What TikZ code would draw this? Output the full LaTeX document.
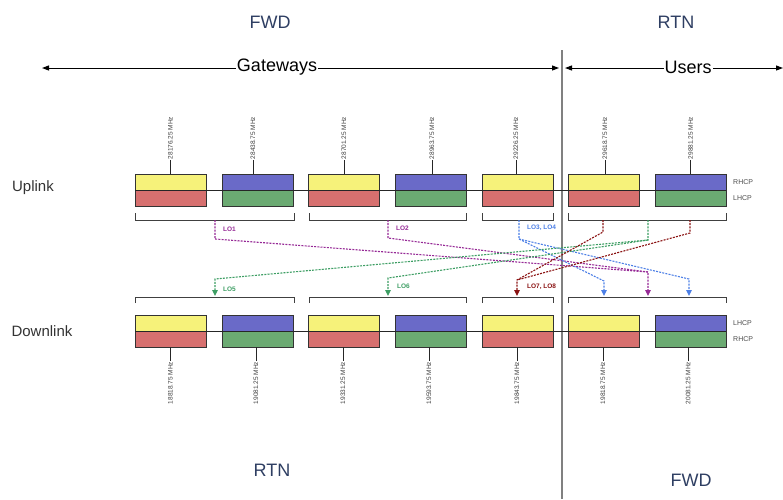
\documentclass[tikz,border=0pt]{standalone}
\usepackage{fontspec}
\setmainfont{Liberation Sans}
\usetikzlibrary{arrows.meta}
\definecolor{byel}{HTML}{F6F27A}
\definecolor{bred}{HTML}{D7706F}
\definecolor{bblu}{HTML}{6A6AC8}
\definecolor{bgrn}{HTML}{6BAA72}
\definecolor{titc}{HTML}{2E3E62}
\definecolor{lopur}{HTML}{962A96}
\definecolor{loblu}{HTML}{4C7FE6}
\definecolor{logrn}{HTML}{3E9E64}
\definecolor{lored}{HTML}{8A1212}
\begin{document}
\begin{tikzpicture}[x=1pt,y=-1pt,
  half/.style={draw=black!80,line width=0.7pt,minimum width=71pt,minimum height=16pt,inner sep=0pt,outer sep=0pt},
  freq/.style={font=\fontsize{6.5}{7}\selectfont,text=black!75,inner sep=0.5pt,rotate=90},
  pol/.style={font=\fontsize{7}{8}\selectfont,text=black!70,anchor=west,inner sep=0pt},
  tick/.style={draw=black!85,line width=0.8pt},
  brk/.style={draw=black!75,line width=0.8pt},
  title/.style={font=\fontsize{18}{20}\selectfont,text=titc},
  side/.style={font=\fontsize{15}{17}\selectfont,text=black!80},
  lo/.style={line width=1.1pt,dash pattern=on 2pt off 1.2pt},
  lotip/.style={-{Triangle[length=6pt,width=5.5pt]}},
  lolab/.style={font=\fontsize{6.5}{7}\bfseries\selectfont,anchor=west,inner sep=0pt}
]
\useasboundingbox (0,0) rectangle (783,499);

% titles
\node[title] (fwdtop) at (270,22) {FWD};
\node[title] (rtntop) at (676,22) {RTN};
\node[title] (rtnbot) at (272,470) {RTN};
\node[title] (fwdbot) at (691,480) {FWD};
\node[side] (upl) at (33,188) {Uplink};
\node[side] (dnl) at (42,331) {Downlink};

% divider
\coordinate (vtop) at (562,50);
\coordinate (vbot) at (562,499);
\draw[draw=black!50,line width=1.4pt] (vtop) -- (vbot);

% top arrows
\coordinate (gl) at (42,68);
\coordinate (gr) at (559,68);
\coordinate (ul) at (565,68);
\coordinate (ur) at (783,68);
\draw[line width=1pt,{Triangle[length=7pt,width=5pt]}-{Triangle[length=7pt,width=5pt]}] (gl) -- (gr);
\draw[line width=1pt,{Triangle[length=7pt,width=5pt]}-{Triangle[length=7pt,width=5pt]}] (ul) -- (ur);
\node[fill=white,inner sep=1pt,font=\fontsize{18}{20}\selectfont] (gw) at (277,67) {Gateways};
\node[fill=white,inner sep=1pt,font=\fontsize{18}{20}\selectfont] (us) at (688,67) {Users};

% uplink boxes
\foreach \n/\x/\a/\b in {1/170.5/byel/bred,2/258/bblu/bgrn,3/344/byel/bred,4/431/bblu/bgrn,5/517.5/byel/bred,6/603.5/byel/bred,7/690.5/bblu/bgrn}{
  \node[half,fill=\a] (u\n t) at (\x,182) {};
  \node[half,fill=\b] (u\n b) at (\x,198) {};
  \node[half,fill=\a] (d\n t) at (\x,323) {};
  \node[half,fill=\b] (d\n b) at (\x,339) {};
}
\draw[line width=1pt,black!85] (u1t.south west) -- (u7t.south east);
\draw[line width=1pt,black!85] (d1t.south west) -- (d7t.south east);

% uplink ticks and frequencies
\foreach \n/\dx/\f in {1/0/28176.25,2/-5/28438.75,3/0/28701.25,4/1/28963.75,5/-1.5/29226.25,6/1.5/29618.75,7/0/29881.25}{
  \draw[tick] ([xshift=\dx pt]u\n t.north) -- ++(0,-14) node[freq,anchor=west] (uf\n) {\f\ MHz};
}
% downlink ticks and frequencies
\foreach \n/\dx/\f in {1/0/18818.75,2/-2/19081.25,3/-1/19331.25,4/-2/19593.75,5/-0.5/19843.75,6/-0.5/19818.75,7/-2.5/20081.25}{
  \draw[tick] ([xshift=\dx pt]d\n b.south) -- ++(0,14) node[freq,anchor=east] (df\n) {\f\ MHz};
}

% polarisation labels
\node[pol] (ur1) at (733,182) {RHCP};
\node[pol] (ul1) at (733,198) {LHCP};
\node[pol] (dl1) at (733,323) {LHCP};
\node[pol] (dr1) at (733,339) {RHCP};

% brackets
\foreach \l/\r in {135/294,309/466,482/553,568/726}{
  \draw[brk] (\l,213) -- (\l,220) -- (\r,220) -- (\r,213);
  \draw[brk] (\l,303) -- (\l,297) -- (\r,297) -- (\r,303);
}

% LO coordinates
\coordinate (s1) at (215,220);   \coordinate (e1) at (215,239);
\coordinate (s2) at (388,220);   \coordinate (e2) at (388,238);
\coordinate (s3) at (519,220);   \coordinate (e3) at (519,239);
\coordinate (s6) at (603,220);   \coordinate (e6) at (603,232);
\coordinate (s7) at (648,220);   \coordinate (e7) at (648,240);
\coordinate (s8) at (690,220);   \coordinate (e8) at (690,233);
\coordinate (m5) at (215,279);   \coordinate (a5) at (215,296);
\coordinate (m6) at (388,278);   \coordinate (a6) at (388,296);
\coordinate (m78) at (517,280);  \coordinate (a78) at (517,296);
\coordinate (mb1) at (604,281);  \coordinate (ab1) at (604,296);
\coordinate (mp) at (648,272);   \coordinate (ap) at (648,296);
\coordinate (mb2) at (689,279);  \coordinate (ab2) at (689,296);

% LO1, LO2 (purple)
\draw[lo,lopur,lotip] (s1) -- (e1) -- (mp) -- (ap);
\draw[lo,lopur] (s2) -- (e2) -- (mp);
% LO3, LO4 (blue)
\draw[lo,loblu,lotip] (s3) -- (e3) -- (mb1) -- (ab1);
\draw[lo,loblu,lotip] (e3) -- (mb2) -- (ab2);
% LO5, LO6 (green)
\draw[lo,logrn,lotip] (s7) -- (e7) -- (m5) -- (a5);
\draw[lo,logrn,lotip] (e7) -- (m6) -- (a6);
% LO7, LO8 (dark red)
\draw[lo,lored,lotip] (s6) -- (e6) -- (m78) -- (a78);
\draw[lo,lored] (s8) -- (e8) -- (m78);

% LO labels
\node[lolab,text=lopur] (l1) at (223,229) {LO1};
\node[lolab,text=lopur] (l2) at (396,228) {LO2};
\node[lolab,text=loblu] (l34) at (527,228) {LO3, LO4};
\node[lolab,text=logrn] (l5) at (223,289) {LO5};
\node[lolab,text=logrn] (l6) at (397,286) {LO6};
\node[lolab,text=lored] (l78) at (527,287) {LO7, LO8};
\end{tikzpicture}
\end{document}
